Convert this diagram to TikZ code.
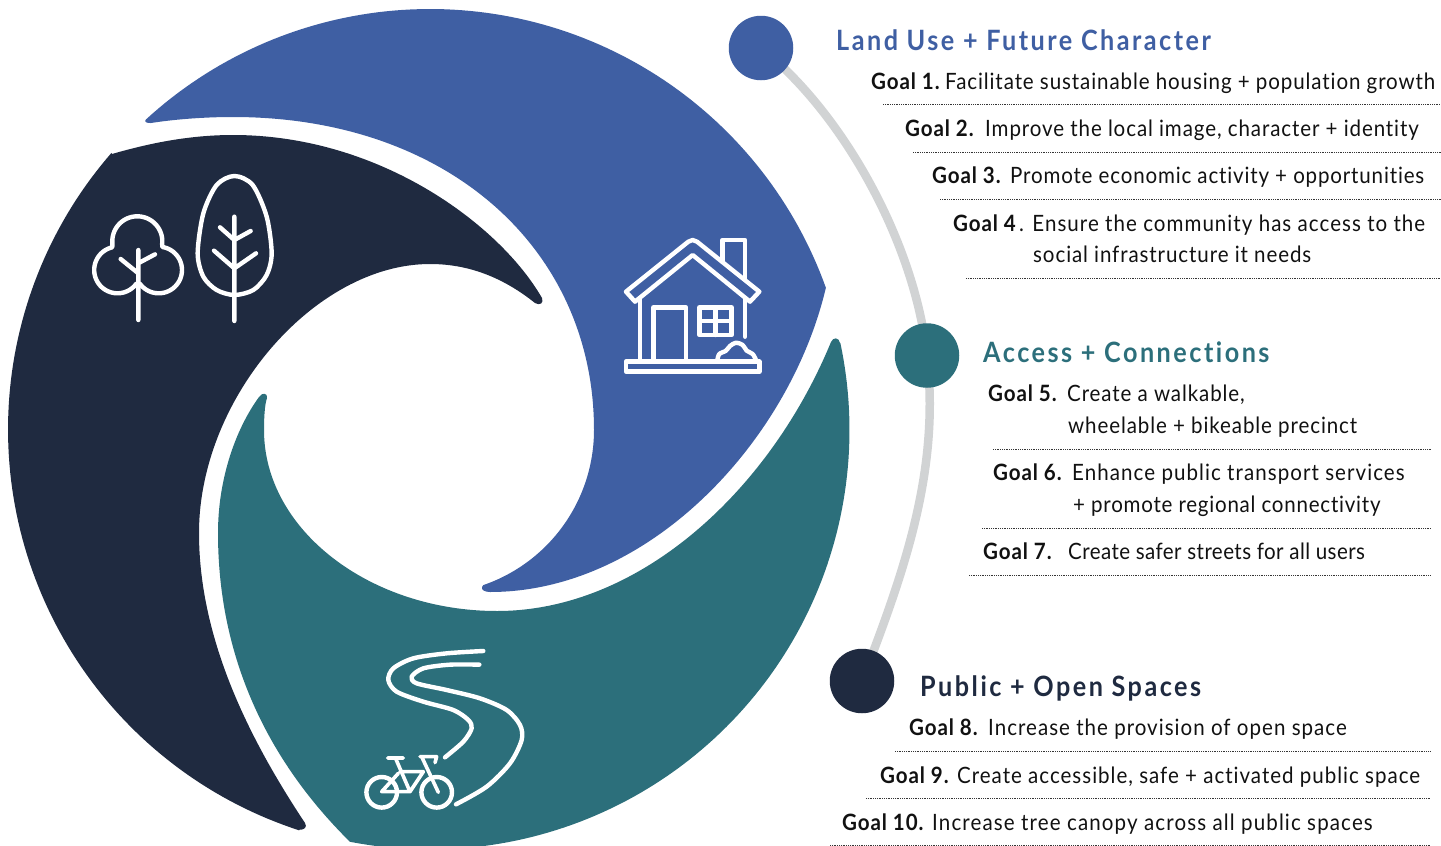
\documentclass[tikz,border=0pt]{standalone}
\usepackage{fontspec}
\usetikzlibrary{backgrounds}
\setmainfont{Lato}[BoldFont=* Bold,FakeStretch=0.913,LetterSpace=4,Ligatures=NoCommon]
\newfontfamily\headfont{Lato}[UprightFont=* Bold,BoldFont=* Bold,FakeStretch=0.9,LetterSpace=8.9,Ligatures=NoCommon]
\definecolor{cblue}{HTML}{3F5FA3}
\definecolor{cnavy}{HTML}{1F2A40}
\definecolor{cteal}{HTML}{2C6F7B}
\definecolor{cgray}{HTML}{D1D3D4}
\definecolor{ctext}{HTML}{111111}
\tikzset{
  icon/.style={draw=white,line width=4.4pt,line cap=round,line join=round},
  thinicon/.style={draw=white,line width=3.6pt,line cap=round,line join=round},
  dotrule/.style={draw=ctext!85,line width=.8pt,dash pattern=on .8pt off 1pt},
  dot/.style={circle,minimum size=64.5pt,inner sep=0pt},
  head/.style={anchor=base west,inner sep=0pt,font=\fontsize{28}{28}\selectfont\headfont},
  txt/.style={anchor=base west,inner sep=0pt,text=ctext,font=\fontsize{22.5}{22.5}\selectfont},
}
\newcommand{\goalline}[3]{\makebox[#1pt][l]{\bfseries #2}#3}
\newcommand{\spaced}[2]{{\addfontfeature{LetterSpace=#1}#2}}
\begin{document}
\begin{tikzpicture}[x=1pt,y=-1pt]
\useasboundingbox (0,0) rectangle (1441,846);
% swooshes
\fill[cblue] plot[domain=227.5:340.3,samples=100] ({430+420.5*cos(\x)},{429.5+420.5*sin(\x)})
  .. controls (790,440) and (650,592) .. (490,592)
  .. controls (485,592) and (481,590) .. (482,587)
  .. controls (482.5,585.5) and (483,585.3) .. (483.4,585)
  -- plot[domain=71:0,samples=60] ({430+164*cos(\x)},{430+164*sin(\x)})
  .. controls (594,250) and (449,117) .. (233,117)
  .. controls (200,117) and (170,120) .. (151,123)
  .. controls (147,123.6) and (143.5,121.5) .. cycle;
\fill[cnavy] (112,154) .. controls (150,143) and (190,135) .. (233,135)
  .. controls (380,135) and (500,225) .. (542,298)
  .. controls (544,303) and (540,306) .. (535,303)
  .. controls (500,275) and (465,264) .. (430,264)
  .. controls (315,264) and (199,398) .. (199,533)
  .. controls (199,640) and (250,740) .. (305,823)
  .. controls (307.5,827) and (304.5,830) .. (299.2,829.8)
  -- plot[domain=108:221,samples=100] ({429.5+421.5*cos(\x)},{429.5+421.5*sin(\x)}) -- cycle;
\fill[cteal] (267,398) .. controls (264.5,405) and (264,420) .. (264,430)
  .. controls (264,530) and (370,611) .. (497,611)
  .. controls (640,611) and (770,490) .. (831,342)
  .. controls (833,337) and (839,337) .. (840,343)
  -- plot[domain=-12:101,samples=100] ({430+419.5*cos(\x)},{430+419.5*sin(\x)})
  .. controls (262,755) and (218,650) .. (218,533)
  .. controls (218,480) and (235,430) .. (259,397)
  .. controls (262,392) and (268,393) .. cycle;
% circles and connector
\node[dot,fill=cblue] (c1) at (761,48) {};
\node[dot,fill=cteal] (c2) at (927,355.5) {};
\node[dot,fill=cnavy] (c3) at (862,681) {};
\begin{scope}[on background layer]
\draw[cgray,line width=8.5pt] (c1.center) .. controls (845,115) and (915,245) .. (c2.center)
  .. controls (940,470) and (905,570) .. (c3.center);
\end{scope}
% trees
\draw[icon] plot[domain=257:36,samples=40] ({117.5+23.3*cos(\x)},{270+23.3*sin(\x)})
  -- plot[domain=144:-81,samples=40] ({158.7+23.3*cos(\x)},{270+23.3*sin(\x)})
  -- plot[domain=6:-186,samples=40] ({137.3+25*cos(\x)},{241.3+25*sin(\x)}) -- cycle;
\begin{scope}[shift={(60,150)},scale=1/3]
\draw[icon] (235,300) -- (235,510) (182,327) -- (235,370) (285,313) -- (240,337);
\draw[icon] plot[smooth cycle] coordinates {(523,78)(470,105)(430,190)(413,310)(430,380)(470,420)(523,435)(580,420)(620,375)(635,310)(620,200)(578,105)};
\draw[icon] (523,200) -- (523,513) (480,232) -- (523,270) -- (572,243) (462,302) -- (523,355) -- (588,310);
\end{scope}
% house
\begin{scope}[shift={(600,220)},scale=1/3]
\draw[icon] (78,215) -- (265,65) -- (278,60) -- (291,65) -- (478,215) -- (450,245) -- (278,105) -- (105,245) -- cycle;
\draw[icon] (368,125) -- (368,60) -- (435,60) -- (435,175);
\draw[icon] (120,235) -- (120,425) (435,235) -- (435,350);
\draw[icon] (160,425) -- (160,262) -- (258,262) -- (258,425);
\draw[icon] (298,262) rectangle (395,345) (347,262) -- (347,345) (298,303) -- (395,303);
\draw[icon] (78,425) rectangle (478,455);
\draw[icon] plot[smooth] coordinates {(352,420)(358,402)(378,392)(390,378)(408,368)(428,375)(440,392)(458,402)(468,420)};
\end{scope}
% road and bike
\begin{scope}[shift={(340,630)},scale=1/3]
\draw[icon] plot[smooth] coordinates {(430,63)(320,70)(220,85)(160,115)(145,150)(170,185)(250,215)(340,240)(385,270)(395,295)(370,335)(315,382)};
\draw[icon] plot[smooth] coordinates {(418,104)(330,104)(250,115)(215,140)(230,160)(320,180)(420,205)(500,240)(540,285)(545,330)(510,400)(440,470)(348,523)};
\draw[thinicon] (143,384) -- (190,384) (168,388) -- (210,485) (180,425) -- (250,425) -- (210,485) -- (125,485) -- (175,430) (245,380) -- (295,487) (240,380) -- (290,380) -- (285,398);
\end{scope}
\draw[icon] (381.7,792.3) circle[radius=15.3pt] (436.7,792.3) circle[radius=15.3pt];
% text
\node[head,text=cblue] (t1) at (836,50) {Land Use + Future Character};
\node[txt] (g1) at (871,89) {\goalline{74}{Goal 1.}{Facilitate sustainable housing + population growth}};
\draw[dotrule] (883,104) -- (1441,104);
\node[txt] (g2) at (905,136) {\goalline{80}{Goal 2.}{Improve the local image, character + identity}};
\draw[dotrule] (913,152) -- (1441,152);
\node[txt] (g3) at (932,183) {\goalline{78}{Goal 3.}{\spaced{3.7}{Promote economic activity + opportunities}}};
\draw[dotrule] (940,199) -- (1441,199);
\node[txt] (g4) at (953,231) {\goalline{66}{Goal 4}{\spaced{4.6}{. Ensure the community has access to the}}};
\node[txt] (g4b) at (1033,262) {social infrastructure it needs};
\draw[dotrule] (966,278) -- (1441,278);
\node[head,text=cteal] (t2) at (983,362) {Access + Connections};
\node[txt] (g5) at (988,401) {\goalline{79}{Goal 5.}{Create a walkable,}};
\node[txt] (g5b) at (1068,433) {wheelable + bikeable precinct};
\draw[dotrule] (993,449) -- (1431,449);
\node[txt] (g6) at (993,480) {\goalline{79}{Goal 6.}{\spaced{4.7}{Enhance public transport services}}};
\node[txt] (g6b) at (1073,512) {\spaced{3.4}{+ promote regional connectivity}};
\draw[dotrule] (982,528) -- (1431,528);
\node[txt] (g7) at (983,559) {\goalline{85}{Goal 7.}{\spaced{1.9}{Create safer streets for all users}}};
\draw[dotrule] (969,575) -- (1431,575);
\node[head,text=cnavy] (t3) at (920,696) {Public + Open Spaces};
\node[txt] (g8) at (909,735) {\goalline{79}{Goal 8.}{\spaced{4.5}{Increase the provision of open space}}};
\draw[dotrule] (895,751) -- (1430,751);
\node[txt] (g9) at (880,783) {\goalline{77}{Goal 9.}{\spaced{4.4}{Create accessible, safe + activated public space}}};
\draw[dotrule] (866,798) -- (1430,798);
\node[txt] (g10) at (842,830) {\goalline{90}{Goal 10.}{\spaced{5}{Increase tree canopy across all public spaces}}};
\draw[dotrule] (830,845) -- (1430,845);
\end{tikzpicture}
\end{document}
